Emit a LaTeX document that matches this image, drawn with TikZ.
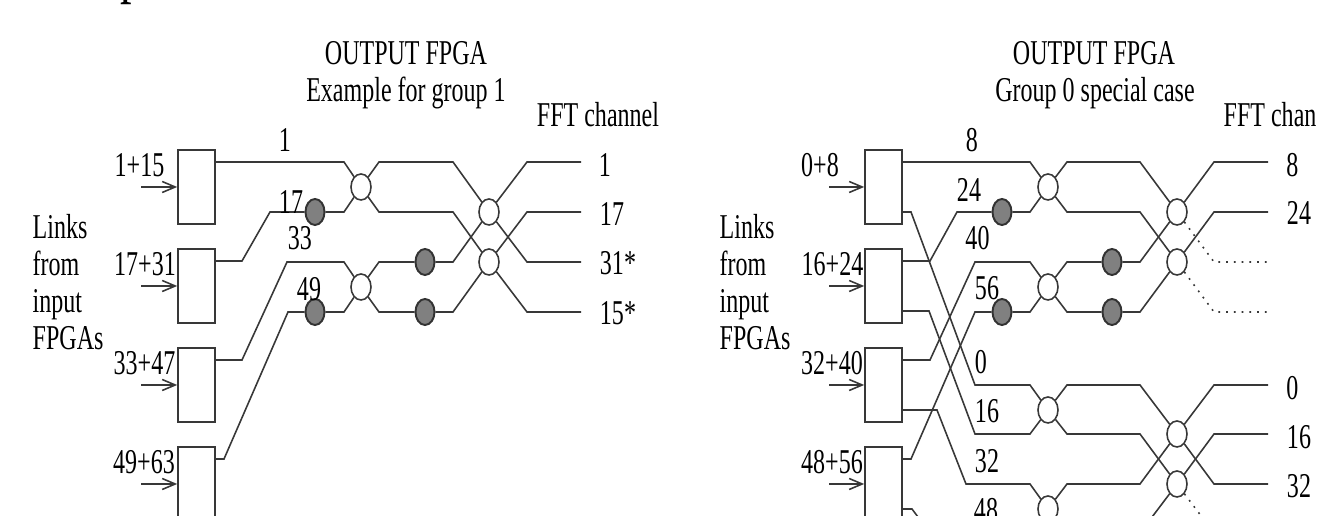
\documentclass[tikz,border=0pt]{standalone}
\usepackage{fontspec}
\setmainfont[FakeStretch=0.69]{Liberation Serif}
\usepackage{tikz}
\usetikzlibrary{shapes.geometric,arrows.meta}
\definecolor{wire}{gray}{0.22}
\tikzstyle{fpgabox}=[
        draw=wire,
        fill=white,
        line width=0.45pt,
        inner sep=0pt,
        minimum width=0.37cm,
        minimum height=0.74cm
]
\tikzstyle{swnode}=[
        ellipse,
        draw=wire,
        fill=white,
        line width=0.45pt,
        inner sep=0pt,
        minimum width=0.2cm,
        minimum height=0.26cm
]
\tikzstyle{delaynode}=[
        ellipse,
        draw=black!80,
        fill=black!50,
        line width=0.55pt,
        inner sep=0pt,
        minimum width=0.19cm,
        minimum height=0.26cm
]
\tikzstyle{wirepath}=[
        draw=wire,
        line width=0.45pt
]
\tikzstyle{unusedpath}=[
        draw=wire,
        line width=0.45pt,
        dash pattern=on 0.5pt off 1.7pt
]
\tikzstyle{linkin}=[
        draw=wire,
        line width=0.45pt,
        -{Straight Barb[length=0.13cm,width=0.11cm]}
]
\tikzstyle{lbl}=[
        anchor=base,
        inner sep=0pt,
        yshift=-0.02cm,
        font=\fontsize{9.9}{12}\selectfont
]
\begin{document}
\begin{tikzpicture}[x=0.01cm,y=-0.01cm]
                        \clip (0,0) rectangle (1317,516);

                        \node[anchor=base west,inner sep=0pt,font=\fontsize{19}{22}\selectfont] (frag) at (120,-9) {p};

                        % left part
                        \node[lbl] (ltitle) at (406,63) {OUTPUT FPGA};
                        \node[lbl] (lsub) at (406,100) {Example for group 1};
                        \node[lbl] (lfft) at (598,125) {FFT channel};
                        \node[lbl,anchor=base west] (llinks) at (32,237) {Links};
                        \node[lbl,anchor=base west] (lfrom) at (32,274) {from};
                        \node[lbl,anchor=base west] (linput) at (32,311) {input};
                        \node[lbl,anchor=base west] (lfpgas) at (32,348) {FPGAs};

                        \foreach \n/\y/\t/\lx in {1/187/1+15/139.5,2/286/17+31/145,3/385/33+47/144.5,4/484/49+63/144} {
                            \node[fpgabox] (la\n) at (196.5,\y) {};
                            \coordinate (lina\n) at (141,\y);
                            \draw[linkin] (lina\n) -- (la\n);
                            \node[lbl] (lt\n) at (\lx,\y-12) {\t};
                        }

                        \node[swnode] (ls1) at (361,187) {};
                        \node[swnode] (ls2) at (361,287) {};
                        \node[swnode] (ls3) at (489,212) {};
                        \node[swnode] (ls4) at (489,262) {};
                        \node[delaynode] (ld1) at (315,212) {};
                        \node[delaynode] (ld2) at (315,312) {};
                        \node[delaynode] (ld3) at (425,262) {};
                        \node[delaynode] (ld4) at (425,312) {};

                        \draw[wirepath] ([yshift=0.25cm]la1.east) -- (344,162) -- (ls1);
                        \draw[wirepath] ([yshift=0.25cm]la2.east) -- (242,261) -- (270,212) -- (ld1) -- (344,212) -- (ls1);
                        \draw[wirepath] ([yshift=0.25cm]la3.east) -- (242,360) -- (287,262) -- (344,262) -- (ls2);
                        \draw[wirepath] ([yshift=0.25cm]la4.east) -- (224,459) -- (288,312) -- (ld2) -- (344,312) -- (ls2);

                        \draw[wirepath] (ls1) -- (379,162) -- (453,162) -- (ls3);
                        \draw[wirepath] (ls1) -- (379,212) -- (453,212) -- (ls4);
                        \draw[wirepath] (ls2) -- (379,262) -- (ld3) -- (453,262) -- (ls3);
                        \draw[wirepath] (ls2) -- (379,312) -- (ld4) -- (453,312) -- (ls4);

                        \draw[wirepath] (ls3) -- (527,162) -- (581,162);
                        \draw[wirepath] (ls4) -- (527,212) -- (581,212);
                        \draw[wirepath] (ls3) -- (527,262) -- (581,262);
                        \draw[wirepath] (ls4) -- (527,312) -- (581,312);

                        \node[lbl] (ln1) at (285,150) {1};
                        \node[lbl] (ln17) at (291,212) {17};
                        \node[lbl] (ln33) at (300,248) {33};
                        \node[lbl] (ln49) at (309,299) {49};
                        \node[lbl] (lo1) at (605,175) {1};
                        \node[lbl] (lo17) at (612,224) {17};
                        \node[lbl] (lo31) at (618,273) {31*};
                        \node[lbl] (lo15) at (618,323) {15*};

                        % right part
                        \node[lbl] (rtitle) at (1094,63) {OUTPUT FPGA};
                        \node[lbl] (rsub) at (1095,100) {Group 0 special case};
                        \node[lbl,anchor=base west] (rfft) at (1223,125) {FFT chan};
                        \node[lbl,anchor=base west] (rlinks) at (719,237) {Links};
                        \node[lbl,anchor=base west] (rfrom) at (719,274) {from};
                        \node[lbl,anchor=base west] (rinput) at (719,311) {input};
                        \node[lbl,anchor=base west] (rfpgas) at (719,348) {FPGAs};

                        \foreach \n/\y/\t/\lx in {1/187/0+8/820,2/286/16+24/832.5,3/385/32+40/832,4/484/48+56/832} {
                            \node[fpgabox] (ra\n) at (883.5,\y) {};
                            \coordinate (rina\n) at (829,\y);
                            \draw[linkin] (rina\n) -- (ra\n);
                            \node[lbl] (rt\n) at (\lx,\y-12) {\t};
                        }

                        \node[swnode] (rs1) at (1048,187) {};
                        \node[swnode] (rs2) at (1048,287) {};
                        \node[swnode] (rs3) at (1177,212) {};
                        \node[swnode] (rs4) at (1177,262) {};
                        \node[swnode] (rs5) at (1048,410) {};
                        \node[swnode] (rs6) at (1048,509) {};
                        \node[swnode] (rs7) at (1177,434) {};
                        \node[swnode] (rs8) at (1177,484) {};
                        \node[delaynode] (rd1) at (1002,212) {};
                        \node[delaynode] (rd2) at (1002,312) {};
                        \node[delaynode] (rd3) at (1112,262) {};
                        \node[delaynode] (rd4) at (1112,312) {};

                        \draw[wirepath] ([yshift=0.25cm]ra1.east) -- (1030,162) -- (rs1);
                        \draw[wirepath] ([yshift=0.25cm]ra2.east) -- (930,261) -- (957,212) -- (rd1) -- (1030,212) -- (rs1);
                        \draw[wirepath] ([yshift=0.25cm]ra3.east) -- (930,360) -- (975,262) -- (1030,262) -- (rs2);
                        \draw[wirepath] ([yshift=0.25cm]ra4.east) -- (911,459) -- (975,312) -- (rd2) -- (1030,312) -- (rs2);
                        \draw[wirepath] ([yshift=-0.25cm]ra1.east) -- (911,212) -- (975,385) -- (1030,385) -- (rs5);
                        \draw[wirepath] ([yshift=-0.25cm]ra2.east) -- (929,311) -- (975,434) -- (1030,434) -- (rs5);
                        \draw[wirepath] ([yshift=-0.25cm]ra3.east) -- (937,410) -- (966,484) -- (1030,484) -- (rs6);
                        \draw[wirepath] ([yshift=-0.25cm]ra4.east) -- (912,509) -- (930,533) -- (1030,533) -- (rs6);

                        \draw[wirepath] (rs1) -- (1067,162) -- (1140,162) -- (rs3);
                        \draw[wirepath] (rs1) -- (1067,212) -- (1140,212) -- (rs4);
                        \draw[wirepath] (rs2) -- (1067,262) -- (rd3) -- (1140,262) -- (rs3);
                        \draw[wirepath] (rs2) -- (1067,312) -- (rd4) -- (1140,312) -- (rs4);
                        \draw[wirepath] (rs5) -- (1067,385) -- (1140,385) -- (rs7);
                        \draw[wirepath] (rs5) -- (1067,434) -- (1140,434) -- (rs8);
                        \draw[wirepath] (rs6) -- (1067,484) -- (1140,484) -- (rs7);
                        \draw[wirepath] (rs6) -- (1067,533) -- (1140,533) -- (rs8);

                        \draw[wirepath] (rs3) -- (1214,162) -- (1268,162);
                        \draw[wirepath] (rs4) -- (1214,212) -- (1268,212);
                        \draw[unusedpath] (rs3) -- (1214,262) -- (1268,262);
                        \draw[unusedpath] (rs4) -- (1214,312) -- (1268,312);
                        \draw[wirepath] (rs7) -- (1214,385) -- (1268,385);
                        \draw[wirepath] (rs8) -- (1214,434) -- (1268,434);
                        \draw[wirepath] (rs7) -- (1214,484) -- (1268,484);
                        \draw[unusedpath] (rs8) -- (1214,533) -- (1268,533);

                        \node[lbl] (rn8) at (972,150) {8};
                        \node[lbl] (rn24) at (969,200) {24};
                        \node[lbl] (rn40) at (977.5,248) {40};
                        \node[lbl] (rn56) at (987,298) {56};
                        \node[lbl] (rn0) at (981,372) {0};
                        \node[lbl] (rn16) at (987,421) {16};
                        \node[lbl] (rn32) at (987,471) {32};
                        \node[lbl] (rn48) at (986,520) {48};
                        \node[lbl] (ro8) at (1292.5,175) {8};
                        \node[lbl] (ro24) at (1299,223) {24};
                        \node[lbl] (ro0) at (1292.5,398) {0};
                        \node[lbl] (ro16) at (1299,447) {16};
                        \node[lbl] (ro32) at (1299,496) {32};
                    \end{tikzpicture}
\end{document}
